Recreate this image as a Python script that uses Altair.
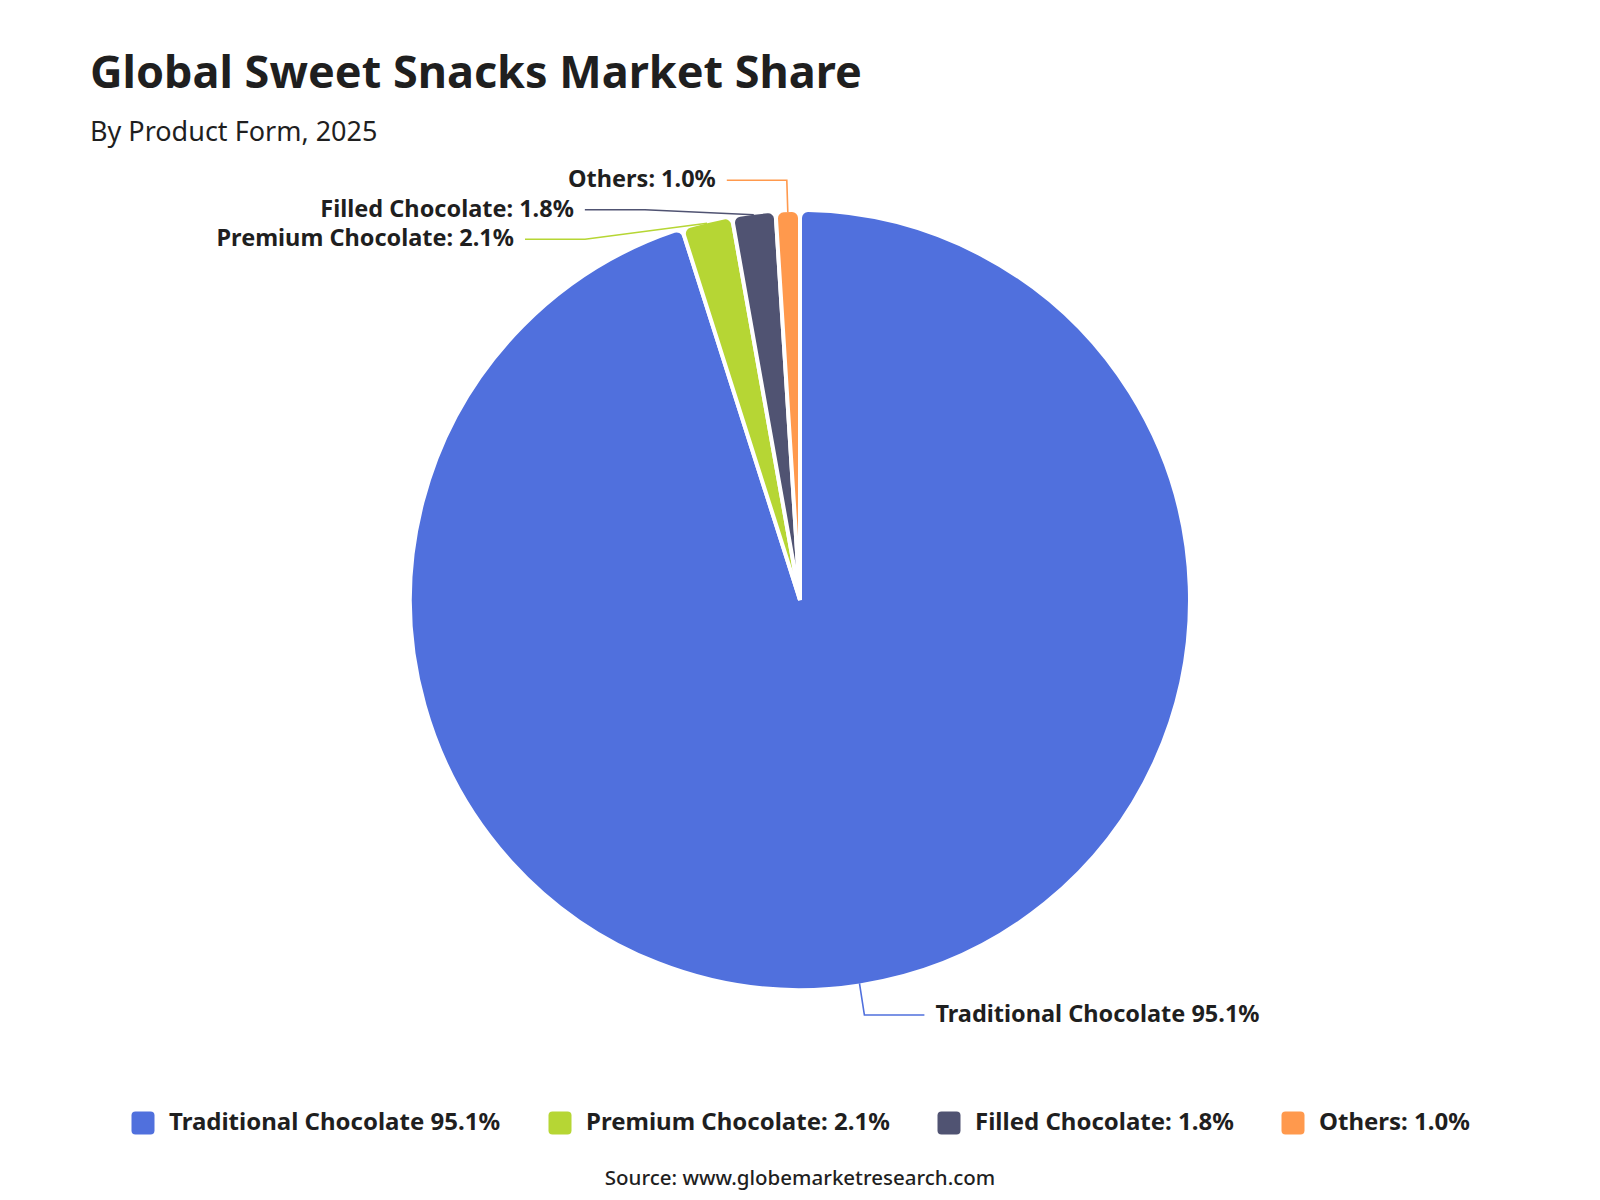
import math
import pandas as pd
import altair as alt

# --- data -------------------------------------------------------------
categories = ["Traditional Chocolate", "Premium Chocolate", "Filled Chocolate", "Others"]
shares = [95.1, 2.1, 1.8, 1.0]
separators = [" ", ": ", ": ", ": "]
colors = ["#5070dd", "#b6d634", "#505372", "#ff994d"]

title_text = "Global Sweet Snacks Market Share"
subtitle_text = "By Product Form, 2025"
source_text = "Source: www.globemarketresearch.com"

# --- layout constants ---------------------------------------------------
W, H = 1600, 1200
CX, CY = 800, 600          # pie centre (px)
R = 388                    # pie radius (px)
LEN1 = 32                  # first label-line segment (radial)
LEN2 = 60                  # second label-line segment (horizontal)
GAP = 11                   # gap between line end and text
LINE_H = 29.5              # minimum vertical spacing of stacked labels
FONT = "Noto Sans"
INK = "#1f1f1f"
LABEL_SIZE = 23.5
LEGEND_SIZE = 24

labels = [f"{c}{s}{v:.1f}%" for c, s, v in zip(categories, separators, shares)]

pie_df = pd.DataFrame({
    "category": categories,
    "share": shares,
    "idx": list(range(len(categories))),
    "label": labels,
})

# --- label placement (outside labels with simple overlap avoidance) ----
total = sum(shares)
cum = 0.0
info = []
for i, v in enumerate(shares):
    mid = (cum + v / 2) / total * 2 * math.pi
    cum += v
    sx, sy = math.sin(mid), -math.cos(mid)
    p0 = (CX + R * sx, CY + R * sy)
    ny = CY + (R + LEN1) * sy
    info.append({"i": i, "side": "right" if sx >= 0 else "left", "p0": p0, "ny": ny})

RL = R + LEN1
for side in ("left", "right"):
    group = sorted([d for d in info if d["side"] == side], key=lambda d: d["ny"])
    prev = None
    for d in group:
        y = d["ny"] if prev is None else max(d["ny"], prev + LINE_H)
        prev = y
        dx = math.sqrt(max(RL ** 2 - (y - CY) ** 2, 0.0))
        sgn = 1 if side == "right" else -1
        d["p1"] = (CX + sgn * dx, y)
        d["p2"] = (CX + sgn * (dx + LEN2), y)
        d["tx"] = CX + sgn * (dx + LEN2 + GAP)

line_rows, text_rows = [], []
for d in info:
    cat = categories[d["i"]]
    for step, p in enumerate((d["p0"], d["p1"], d["p2"])):
        line_rows.append({"category": cat, "step": step, "x": p[0], "y": p[1]})
    text_rows.append({"category": cat, "side": d["side"], "x": d["tx"],
                      "y": d["p2"][1], "label": labels[d["i"]]})
line_df = pd.DataFrame(line_rows)
text_df = pd.DataFrame(text_rows)

# --- scales -------------------------------------------------------------
xs = alt.Scale(domain=[0, W], nice=False, zero=False)
ys = alt.Scale(domain=[0, H], nice=False, zero=False, reverse=True)
color_scale = alt.Scale(domain=categories, range=colors)

rounded_square = ("M-0.65,-1 L0.65,-1 Q1,-1 1,-0.65 L1,0.65 Q1,1 0.65,1 "
                  "L-0.65,1 Q-1,1 -1,0.65 L-1,-0.65 Q-1,-1 -0.65,-1 Z")

label_expr = " : ".join(
    f"datum.value == '{c}' ? '{l}'" for c, l in zip(categories[:-1], labels[:-1])
) + f" : '{labels[-1]}'"

legend = alt.Legend(
    orient="none", legendX=131, legendY=1111, columns=4, direction="horizontal",
    title=None, padding=0, symbolType=rounded_square, symbolSize=529,
    symbolStrokeWidth=0, labelFont=FONT, labelFontSize=LEGEND_SIZE, labelFontWeight="bold",
    labelColor=INK, labelOffset=14, columnPadding=47, labelLimit=600,
    labelExpr=label_expr,
)

pie = alt.Chart(pie_df).mark_arc(
    radius=R + 2, cornerRadius=8, stroke="white", strokeWidth=4
).encode(
    theta=alt.Theta("share:Q", stack=True),
    color=alt.Color("category:N", scale=color_scale, sort=categories, legend=legend),
    order=alt.Order("idx:Q"),
    x=alt.value(CX),
    y=alt.value(CY),
)

lines = alt.Chart(line_df).mark_line(strokeWidth=1.6).encode(
    x=alt.X("x:Q", scale=xs, axis=None),
    y=alt.Y("y:Q", scale=ys, axis=None),
    color=alt.Color("category:N", scale=color_scale, legend=None),
    detail="category:N",
    order=alt.Order("step:Q"),
)

def label_layer(side, align):
    return alt.Chart(text_df).transform_filter(
        alt.datum.side == side
    ).mark_text(
        align=align, baseline="middle", font=FONT, fontSize=LABEL_SIZE,
        fontWeight="bold", color=INK
    ).encode(
        x=alt.X("x:Q", scale=xs, axis=None),
        y=alt.Y("y:Q", scale=ys, axis=None),
        text="label:N",
    )

def static_text(txt, x, y, size, weight, align="left", baseline="alphabetic"):
    return alt.Chart(pd.DataFrame({"t": [txt]})).mark_text(
        align=align, baseline=baseline, font=FONT, fontSize=size,
        fontWeight=weight, color=INK
    ).encode(x=alt.value(x), y=alt.value(y), text="t:N")

title = static_text(title_text, 90, 88, 45, "bold")
subtitle = static_text(subtitle_text, 90, 141, 27, "normal")
source = static_text(source_text, 800, 1179, 20.5, 500, align="center", baseline="middle")

chart = alt.layer(
    pie, lines, label_layer("left", "right"), label_layer("right", "left"),
    title, subtitle, source,
).properties(
    width=W, height=H, padding=0, autosize="none", background="white"
).configure_view(stroke=None)

chart.save("out.html", embed_options={"renderer": "svg", "actions": False})
